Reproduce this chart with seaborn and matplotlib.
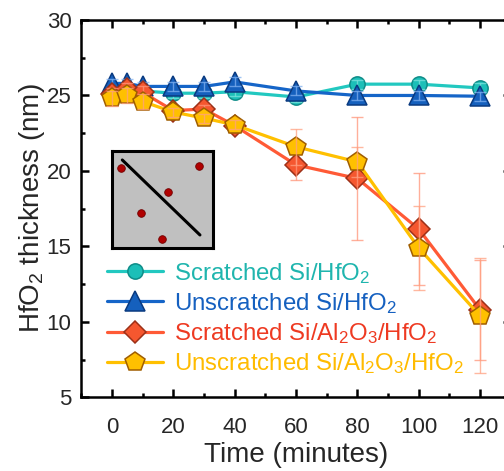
import matplotlib
matplotlib.use("Agg")
import matplotlib.pyplot as plt
import seaborn as sns
from matplotlib.lines import Line2D
from matplotlib.ticker import MultipleLocator

# ---------------- data ----------------
time_min = [0, 5, 10, 20, 30, 40, 60, 80, 100, 120]

scratched_si_hfo2 = [25.2, 25.0, 25.3, 25.15, 25.15, 25.25, 24.9, 25.75, 25.75, 25.5]
scratched_si_hfo2_err = [0.3, 0.3, 0.3, 0.3, 0.3, 0.3, 0.3, 0.3, 0.3, 0.3]

unscratched_si_hfo2 = [25.8, 25.8, 25.6, 25.6, 25.6, 25.9, 25.3, 25.0, 25.0, 24.95]
unscratched_si_hfo2_err = [0.3, 0.3, 0.3, 0.3, 0.3, 0.3, 0.3, 0.3, 0.3, 0.3]

scratched_al2o3 = [25.1, 25.4, 25.2, 24.0, 24.1, 23.0, 20.4, 19.5, 16.15, 10.8]
scratched_al2o3_err = [0.4, 0.4, 0.4, 0.3, 0.3, 0.3, 1.0, 4.1, 3.7, 3.3]

unscratched_al2o3 = [24.8, 25.0, 24.6, 23.9, 23.5, 23.05, 21.6, 20.6, 14.9, 10.4]
unscratched_al2o3_err = [0.5, 0.5, 0.5, 0.3, 0.3, 0.3, 1.2, 1.0, 2.8, 3.8]

labels = [
    "Scratched Si/HfO$_2$",
    "Unscratched Si/HfO$_2$",
    "Scratched Si/Al$_2$O$_3$/HfO$_2$",
    "Unscratched Si/Al$_2$O$_3$/HfO$_2$",
]

# inset schematic (normalised coordinates)
inset_dot_x = [0.086, 0.858, 0.551, 0.287, 0.492]
inset_dot_y = [0.822, 0.848, 0.580, 0.364, 0.090]
inset_line_x = [0.102, 0.871]
inset_line_y = [0.907, 0.134]

# ---------------- style ----------------
sns.set_style("ticks")
plt.rcParams["font.family"] = ["Liberation Sans", "DejaVu Sans"]
plt.rcParams["mathtext.fontset"] = "custom"
plt.rcParams["mathtext.rm"] = "Liberation Sans"
plt.rcParams["mathtext.it"] = "Liberation Sans:italic"
plt.rcParams["mathtext.bf"] = "Liberation Sans:bold"
plt.rcParams["mathtext.default"] = "regular"

fig = plt.figure(figsize=(5.04, 4.71), dpi=100)
ax = fig.add_axes([0.1613, 0.1565, 0.852, 0.8010])

series = [
    dict(y=scratched_si_hfo2, e=scratched_si_hfo2_err, lc="#22C8C0", fc="#1CBFB8",
         ec="#0E8C88", m="o", ms=11, errc="#7FE3DE", tc="#1FB5AE"),
    dict(y=unscratched_si_hfo2, e=unscratched_si_hfo2_err, lc="#1565C8", fc="#1560BD",
         ec="#0A3A80", m="^", ms=14, errc="#7FB0F0", tc="#1560C0"),
    dict(y=scratched_al2o3, e=scratched_al2o3_err, lc="#FF5A36", fc="#F5572F",
         ec="#9C3018", m="D", ms=11, errc="#FF9478", tc="#EE3A22"),
    dict(y=unscratched_al2o3, e=unscratched_al2o3_err, lc="#FFC000", fc="#FFC000",
         ec="#A05E00", m="p", ms=15, errc="#FFA080", tc="#FFBB00"),
]

handles = []
for i, s in enumerate(series):
    sns.lineplot(x=time_min, y=s["y"], ax=ax, color=s["lc"], linewidth=2.3,
                 marker=s["m"], markersize=s["ms"], markerfacecolor=s["fc"],
                 markeredgecolor=s["ec"], markeredgewidth=1.1, zorder=3 + i,
                 legend=False)
    ax.errorbar(time_min, s["y"], yerr=s["e"], fmt="none", ecolor=s["errc"],
                elinewidth=1.0, capsize=4.5, capthick=1.0, alpha=0.75, zorder=3.5 + i)
    handles.append(Line2D([], [], color=s["lc"], linewidth=2.3, marker=s["m"],
                          markersize=s["ms"], markerfacecolor=s["fc"],
                          markeredgecolor=s["ec"], markeredgewidth=1.1))

ax.set_xlim(-10, 130)
ax.set_ylim(5, 30)
ax.xaxis.set_major_locator(MultipleLocator(20))
ax.xaxis.set_minor_locator(MultipleLocator(10))
ax.yaxis.set_major_locator(MultipleLocator(5))
ax.yaxis.set_minor_locator(MultipleLocator(2.5))
ax.tick_params(which="both", direction="in", top=True, right=True, width=1.8,
               color="black")
ax.tick_params(which="major", length=6, labelsize=16, pad=7)
ax.tick_params(axis="x", which="major", pad=14)
ax.tick_params(which="minor", length=3)
for sp in ax.spines.values():
    sp.set_linewidth(1.8)
    sp.set_color("black")

ax.set_xlabel("Time (minutes)", fontsize=20, labelpad=3)
ax.set_ylabel("HfO$_2$ thickness (nm)", fontsize=20, labelpad=0)

leg = ax.legend(handles, labels, loc="upper left", bbox_to_anchor=(0.213, 0.4465),
                bbox_transform=fig.transFigure, frameon=False, fontsize=17.3,
                handlelength=2.3, handletextpad=0.47, labelspacing=0.22,
                borderpad=0, borderaxespad=0,
                labelcolor=[s["tc"] for s in series])

# inset schematic
iax = fig.add_axes([0.2222, 0.4735, 0.2004, 0.2060])
iax.set_facecolor("#C0C0C0")
iax.plot(inset_line_x, inset_line_y, color="black", linewidth=2.2)
iax.scatter(inset_dot_x, inset_dot_y, s=30, color="#B00000", edgecolor="#700000",
            linewidth=0.6, zorder=3)
iax.set_xlim(0, 1)
iax.set_ylim(0, 1)
iax.set_xticks([])
iax.set_yticks([])
for sp in iax.spines.values():
    sp.set_linewidth(2.2)
    sp.set_color("black")

fig.savefig("out.png", dpi=100)
